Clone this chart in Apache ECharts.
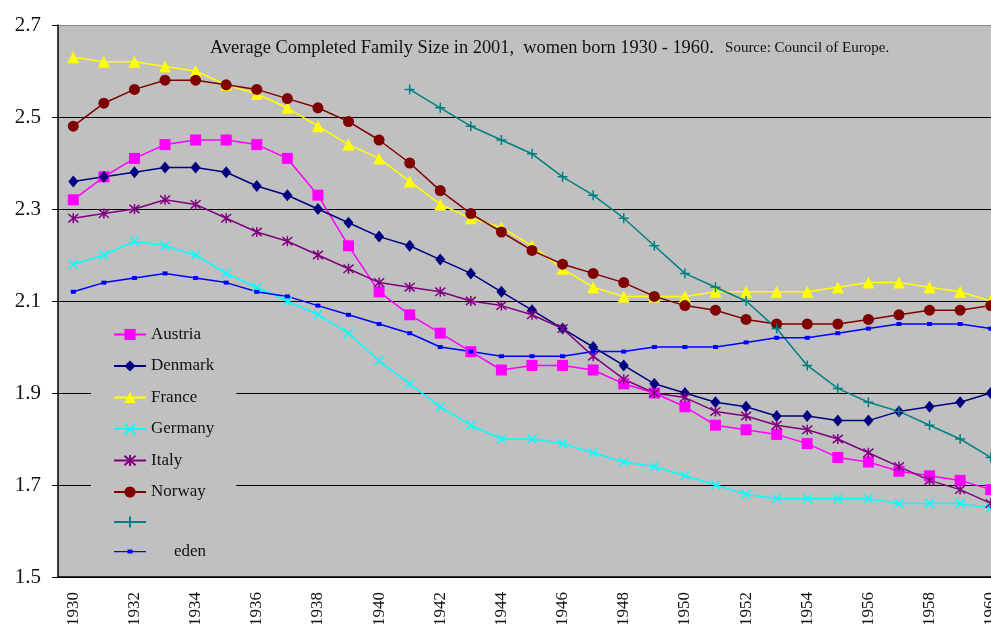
<!DOCTYPE html>
<html lang="en">
<head>
    <meta charset="UTF-8">
    <title>Average Completed Family Size</title>
    <script type="text/javascript" src="https://cdn.jsdelivr.net/npm/echarts@6/dist/echarts.min.js"></script>
    <style>
        body { margin: 0; background: #fff; }
    </style>
</head>
<body>
<div id="main" style="width: 991px;height:624px;"></div>
</body>
<script type="text/javascript">

    // birth years of the women
    let years = [];
    for (let y = 1930; y <= 1960; y++) years.push(String(y));

    let austria = [2.32, 2.37, 2.41, 2.44, 2.45, 2.45, 2.44, 2.41, 2.33, 2.22, 2.12, 2.07, 2.03, 1.99, 1.95, 1.96,
        1.96, 1.95, 1.92, 1.90, 1.87, 1.83, 1.82, 1.81, 1.79, 1.76, 1.75, 1.73, 1.72, 1.71, 1.69];
    let denmark = [2.36, 2.37, 2.38, 2.39, 2.39, 2.38, 2.35, 2.33, 2.30, 2.27, 2.24, 2.22, 2.19, 2.16, 2.12, 2.08,
        2.04, 2.00, 1.96, 1.92, 1.90, 1.88, 1.87, 1.85, 1.85, 1.84, 1.84, 1.86, 1.87, 1.88, 1.90];
    let france = [2.63, 2.62, 2.62, 2.61, 2.60, 2.57, 2.55, 2.52, 2.48, 2.44, 2.41, 2.36, 2.31, 2.28, 2.26, 2.22,
        2.17, 2.13, 2.11, 2.11, 2.11, 2.12, 2.12, 2.12, 2.12, 2.13, 2.14, 2.14, 2.13, 2.12, 2.10];
    let germany = [2.18, 2.20, 2.23, 2.22, 2.20, 2.16, 2.13, 2.10, 2.07, 2.03, 1.97, 1.92, 1.87, 1.83, 1.80, 1.80,
        1.79, 1.77, 1.75, 1.74, 1.72, 1.70, 1.68, 1.67, 1.67, 1.67, 1.67, 1.66, 1.66, 1.66, 1.65];
    let italy = [2.28, 2.29, 2.30, 2.32, 2.31, 2.28, 2.25, 2.23, 2.20, 2.17, 2.14, 2.13, 2.12, 2.10, 2.09, 2.07,
        2.04, 1.98, 1.93, 1.90, 1.89, 1.86, 1.85, 1.83, 1.82, 1.80, 1.77, 1.74, 1.71, 1.69, 1.66];
    let norway = [2.48, 2.53, 2.56, 2.58, 2.58, 2.57, 2.56, 2.54, 2.52, 2.49, 2.45, 2.40, 2.34, 2.29, 2.25, 2.21,
        2.18, 2.16, 2.14, 2.11, 2.09, 2.08, 2.06, 2.05, 2.05, 2.05, 2.06, 2.07, 2.08, 2.08, 2.09];
    // unlabelled series, only from 1941
    let unnamed = [null, null, null, null, null, null, null, null, null, null, null, 2.56, 2.52, 2.48, 2.45, 2.42,
        2.37, 2.33, 2.28, 2.22, 2.16, 2.13, 2.10, 2.04, 1.96, 1.91, 1.88, 1.86, 1.83, 1.80, 1.76];
    let sweden = [2.12, 2.14, 2.15, 2.16, 2.15, 2.14, 2.12, 2.11, 2.09, 2.07, 2.05, 2.03, 2.00, 1.99, 1.98, 1.98,
        1.98, 1.99, 1.99, 2.00, 2.00, 2.00, 2.01, 2.02, 2.02, 2.03, 2.04, 2.05, 2.05, 2.05, 2.04];

    const serif = '"Liberation Serif", "DejaVu Serif", serif';

    // stroked marker shapes
    const crossPath = 'path://M0,0L10,10M10,0L0,10';
    const starPath = 'path://M0,0L10,10M10,0L0,10M5,-1L5,11';
    const plusPath = 'path://M5,0L5,10M0,5L10,5';
    // legend icon for Sweden: thin line with a small square, box kept at 32x14
    const smallSquareIcon = 'path://M0,0h0.01v0.01h-0.01zM0,6.3h32v1.4h-32zM13.5,5h5v4h-5zM31.99,13.99h0.01v0.01h-0.01z';

    function line(name, data, color, symbol, size, stroked) {
        return {
            name: name,
            type: 'line',
            data: data,
            symbol: symbol,
            symbolSize: size,
            showAllSymbol: true,
            connectNulls: false,
            animation: false,
            lineStyle: {color: color, width: 1.5},
            itemStyle: stroked
                ? {color: color, borderColor: color, borderWidth: 1.5}
                : {color: color, borderWidth: 0}
        };
    }

    let option = {
        animation: false,
        title: {
            left: 205,
            top: 34,
            text: '{a|Average Completed Family Size in 2001,  women born 1930 - 1960.}{b|   Source: Council of Europe.}',
            textStyle: {
                rich: {
                    a: {fontFamily: serif, fontSize: 18.4, fontWeight: 'normal', color: '#111'},
                    b: {fontFamily: serif, fontSize: 15, fontWeight: 'normal', color: '#111'}
                }
            }
        },
        grid: {
            left: 58,
            top: 25,
            width: 948,
            height: 552,
            containLabel: false,
            outerBoundsMode: 'none',
            show: true,
            backgroundColor: '#c0c0c0',
            borderWidth: 0
        },
        legend: {
            orient: 'vertical',
            left: 91,
            top: 314,
            padding: [12, 22, 10, 22],
            backgroundColor: '#c0c0c0',
            itemWidth: 32,
            itemHeight: 14,
            itemGap: 14.5,
            textStyle: {fontFamily: serif, fontSize: 17, color: '#111',
                rich: {s: {fontFamily: serif, fontSize: 17, color: '#111', padding: [0, 0, 0, 23]}}},
            formatter: function (name) {
                if (name === 'Sweden') return '{s|eden}';
                if (name === 'Unlabelled') return '';
                return name;
            },
            data: ['Austria', 'Denmark', 'France', 'Germany', 'Italy', 'Norway', 'Unlabelled',
                {name: 'Sweden', icon: smallSquareIcon}]
        },
        xAxis: {
            type: 'category',
            data: years,
            boundaryGap: true,
            axisLine: {lineStyle: {color: '#000', width: 1.5}},
            axisTick: {interval: 0, length: 5, lineStyle: {color: '#000'}},
            axisLabel: {
                interval: 1,
                rotate: 90,
                margin: 15,
                fontFamily: serif,
                fontSize: 17,
                color: '#111'
            },
            splitLine: {show: false}
        },
        yAxis: {
            type: 'value',
            min: 1.5,
            max: 2.7,
            interval: 0.2,
            axisLine: {show: true, lineStyle: {color: '#000', width: 1.5}},
            axisTick: {show: true, length: 6, lineStyle: {color: '#000'}},
            axisLabel: {
                margin: 17,
                fontFamily: serif,
                fontSize: 21,
                color: '#111',
                formatter: function (v) { return v.toFixed(1); }
            },
            splitLine: {
                show: true,
                lineStyle: {color: ['#000', '#000', '#000', '#000', '#000', '#000', '#8a8a8a'], width: 1}
            }
        },
        series: [
            line('Austria', austria, '#ff00ff', 'rect', 11, false),
            line('Denmark', denmark, '#000080', 'diamond', [10, 12], false),
            line('France', france, '#ffff00', 'triangle', 12, false),
            line('Germany', germany, '#00ffff', crossPath, 9, true),
            line('Italy', italy, '#800080', starPath, 10, true),
            line('Norway', norway, '#800000', 'circle', 11, false),
            line('Unlabelled', unnamed, '#008080', plusPath, 10, true),
            line('Sweden', sweden, '#0000ff', 'rect', [5, 4], false)
        ]
    };

    echarts.init(document.getElementById('main')).setOption(option);
</script>
</html>
